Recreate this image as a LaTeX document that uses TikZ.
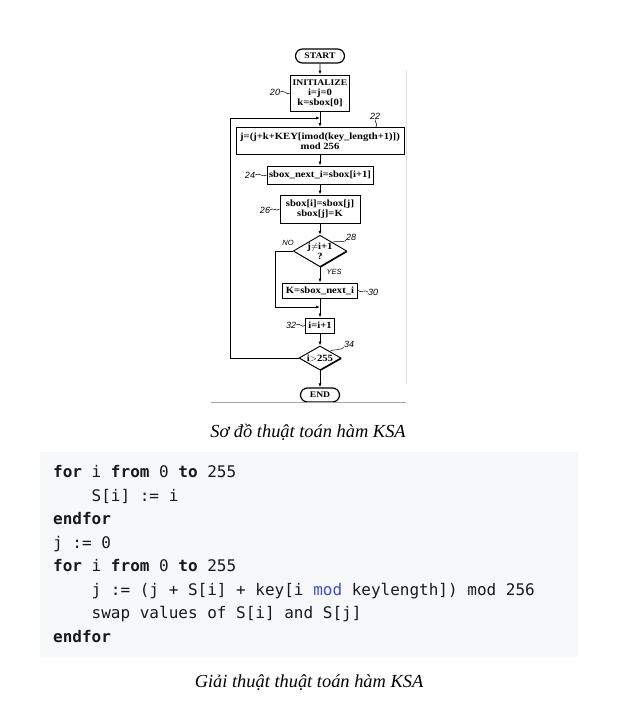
\documentclass[tikz,border=0pt]{standalone}
\usepackage{fontspec}
\setmainfont{Liberation Serif}
\setmonofont{DejaVu Sans Mono}
\newfontfamily\scanfont[FakeStretch=1.12]{Liberation Serif}
\newfontfamily\refnumfont{Liberation Sans}
\usetikzlibrary{calc,positioning,shapes.geometric,shapes.misc,shadows,arrows.meta}
\definecolor{codebg}{RGB}{246,248,250}
\definecolor{codekw}{RGB}{60,80,190}
\newcommand\kw[1]{\textbf{#1}}
\newcommand\capsize{\fontsize{8.6}{10}\selectfont}
\frenchspacing

\begin{document}
\begin{tikzpicture}[x=1pt,y=-1pt,
  box/.style={draw, fill=white, line width=0.9pt, inner sep=1pt, align=center,
    font=\scanfont\fontsize{9.5}{10}\selectfont\bfseries,
    drop shadow={shadow xshift=0.9pt, shadow yshift=-0.9pt, fill=black, opacity=1}},
  term/.style={draw, rounded rectangle, fill=white, line width=1.2pt, inner sep=1pt,
    minimum height=14pt, font=\scanfont\capsize\bfseries},
  dec/.style={box, diamond, aspect=1.7, inner sep=0pt},
  flow/.style={draw, line width=0.8pt, -{Latex[length=4pt,width=3pt]}},
  lead/.style={line width=0.5pt},
  refnum/.style={font=\refnumfont\itshape\fontsize{9}{10}\selectfont, inner sep=0pt},
  answer/.style={font=\refnumfont\itshape\fontsize{7.5}{9}\selectfont, inner sep=0pt},
  caption/.style={font=\itshape\fontsize{18.4}{20}\selectfont, inner sep=0pt},
  codeline/.style={anchor=base west, inner sep=0pt, text=black!90,
    font=\ttfamily\fontsize{16}{19}\selectfont}]
\useasboundingbox (0,0) rectangle (638,727);

% flowchart
\node[term, minimum width=51pt] (start) at (320,56) {START};
\node[box, minimum width=59pt, minimum height=36pt] (init) at (320,93) {{\capsize INITIALIZE}\\i=j=0\\k=sbox[0]};
\node[box, minimum width=168pt, minimum height=27pt] (eq22) at (320,141) {j=(j+k+KEY[imod(key\_length+1)])\\mod 256};
\node[box, minimum width=106pt, minimum height=18pt] (nxt24) at (320,175) {sbox\_next\_i=sbox[i+1]};
\node[box, minimum width=80pt, minimum height=28pt] (swap26) at (320,209) {sbox[i]=sbox[j]\\sbox[j]=K};
\node[dec, minimum width=50pt, minimum height=30pt] (dec28) at (320,251) {j$\neq$i+1\\?};
\node[box, minimum width=75pt, minimum height=15pt] (k30) at (320,290.5) {K=sbox\_next\_i};
\node[box, minimum width=29pt, minimum height=15pt] (inc32) at (320,325.5) {i=i+1};
\node[dec, minimum width=42pt, minimum height=24pt] (dec34) at (320,358) {i$>$255};
\begin{scope}
\clip (200,380) rectangle (410,401);
\node[term, minimum width=41pt] (end) at (320,395) {END};
\end{scope}

\coordinate (join22) at (320,118);
\coordinate (loop34) at (230,118);
\coordinate (join30) at (320,307);
\coordinate (no28) at (275,307);

\draw[flow] (start) -- (init);
\draw[flow] (init) -- (eq22);
\draw[flow] (eq22) -- (nxt24);
\draw[flow] (nxt24) -- (swap26);
\draw[flow] (swap26) -- (dec28);
\draw[flow] (dec28) -- (k30);
\draw[flow] (k30) -- (inc32);
\draw[flow] (inc32) -- (dec34);
\draw[flow] (dec34) -- (end);
\draw[flow] (dec28.west) -| (no28) -- (join30);
\draw[flow] (dec34.west) -| (loop34) -- (join22);

\node[answer] (no) at (288,243) {NO};
\node[answer] (yes) at (334,272) {YES};

% reference numerals
\node[refnum] (n20) at (275,92) {20};
\node[refnum] (n22) at (375,116) {22};
\node[refnum] (n24) at (250,175) {24};
\node[refnum] (n26) at (265,210) {26};
\node[refnum] (n28) at (351,237) {28};
\node[refnum] (n30) at (373,292) {30};
\node[refnum] (n32) at (291,325) {32};
\node[refnum] (n34) at (349,344) {34};
\draw[lead] (n20.east) .. controls +(3,-3) and +(-3,3) .. (init.west);
\draw[lead] (n22.south) .. controls +(0,4) and +(2,-4) .. (eq22.14);
\draw[lead] (n24.east) .. controls +(3,-3) and +(-3,3) .. (nxt24.west);
\draw[lead] (n26.east) .. controls +(3,-3) and +(-3,3) .. (swap26.west);
\draw[lead] (n28.south west) .. controls +(-2,3) and +(3,-2) .. (dec28.35);
\draw[lead] (k30.east) .. controls +(3,3) and +(-3,-3) .. (n30.west);
\draw[lead] (n32.east) .. controls +(3,-3) and +(-3,3) .. (inc32.west);
\draw[lead] (n34.south west) .. controls +(-2,3) and +(3,-2) .. (dec34.35);

% scan edges
\draw[gray!25, line width=0.6pt] (406.5,70) -- (406.5,384);
\draw[gray!70, line width=1pt] (211,402) -- (406,402);

\node[caption] (cap1) at (308,432) {Sơ đồ thuật toán hàm KSA};

% code block
\fill[codebg] (40,452) rectangle (578,657);
\node[codeline] (c1) at (53,477.5) {\kw{for} i \kw{from} 0 \kw{to} 255};
\node[codeline] (c2) at (91.5,501) {S[i] := i};
\node[codeline] (c3) at (53,524.5) {\kw{endfor}};
\node[codeline] (c4) at (53,548) {j := 0};
\node[codeline] (c5) at (53,571.5) {\kw{for} i \kw{from} 0 \kw{to} 255};
\node[codeline] (c6) at (91.5,595) {j := (j + S[i] + key[i {\color{codekw}mod} keylength]) mod 256};
\node[codeline] (c7) at (91.5,618.5) {swap values of S[i] and S[j]};
\node[codeline] (c8) at (53,642) {\kw{endfor}};

\node[caption] (cap2) at (309,683) {Giải thuật thuật toán hàm KSA};
\end{tikzpicture}
\end{document}
